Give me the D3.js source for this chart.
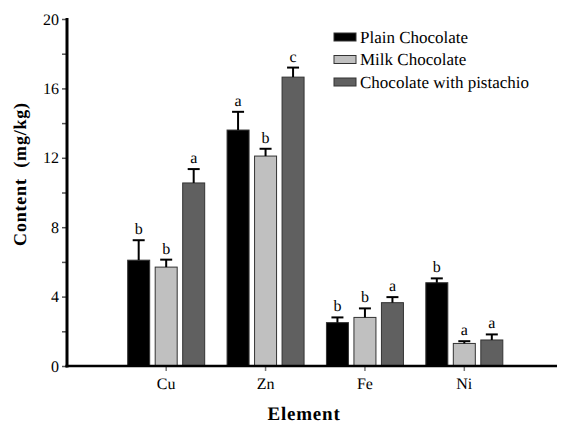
<!DOCTYPE html>
<html>
<head>
<meta charset="utf-8">
<script src="https://cdn.jsdelivr.net/npm/d3@7"></script>
<style>
  body { margin: 0; background: #fff; }
</style>
</head>
<body>
<div id="chart"></div>
<script>
// data
let elements = ["Cu", "Zn", "Fe", "Ni"];
let series = ["Plain Chocolate", "Milk Chocolate", "Chocolate with pistachio"];
let plainVals = [6.1, 13.6, 2.5, 4.8];
let plainErr = [1.15, 1.05, 0.3, 0.25];
let plainLetters = ["b", "a", "b", "b"];
let milkVals = [5.7, 12.1, 2.8, 1.3];
let milkErr = [0.43, 0.42, 0.52, 0.13];
let milkLetters = ["b", "b", "b", "a"];
let pistVals = [10.55, 16.65, 3.65, 1.5];
let pistErr = [0.8, 0.55, 0.32, 0.32];
let pistLetters = ["a", "c", "a", "a"];
let yTicks = [0, 2, 4, 6, 8, 10, 12, 14, 16, 18, 20];

let colors = ["#000000", "#c0c0c0", "#606060"];
let allVals = [plainVals, milkVals, pistVals];
let allErr = [plainErr, milkErr, pistErr];
let allLetters = [plainLetters, milkLetters, pistLetters];

let serif = "'Liberation Serif', 'Times New Roman', serif";

let svgWidth = 561;
let svgHeight = 424;

let svg = d3.select("#chart")
    .append("svg")
    .attr("width", svgWidth)
    .attr("height", svgHeight)
    .style("font-family", serif)
    .style("text-rendering", "geometricPrecision");

let axisX = 67;
let axisY = 366;

let y = d3.scaleLinear().domain([0, 20]).range([axisY, 19]);
let x0 = d3.scaleBand().domain(elements).range([116.5, 514]);
let x1 = d3.scaleBand().domain(series)
    .range([-41.25, 41.25])
    .paddingInner(0.2)
    .paddingOuter(0.1);

// flat rows for bars
let rows = [];
elements.forEach((el, i) => {
    series.forEach((s, j) => {
        rows.push({
            el: el, s: s, j: j,
            v: allVals[j][i], e: allErr[j][i], l: allLetters[j][i]
        });
    });
});

let barX = d => x0(d.el) + x0.bandwidth() / 2 + x1(d.s);

// bars
svg.append("g").selectAll("rect")
    .data(rows)
    .enter()
    .append("rect")
    .attr("x", d => barX(d))
    .attr("y", d => y(d.v))
    .attr("width", x1.bandwidth())
    .attr("height", d => axisY - y(d.v))
    .attr("fill", d => colors[d.j])
    .attr("stroke", "#333")
    .attr("stroke-width", 1);

// error bars
let errG = svg.append("g").attr("stroke", "#000").attr("stroke-width", 2);
errG.selectAll("line.v")
    .data(rows)
    .enter()
    .append("line")
    .attr("x1", d => barX(d) + x1.bandwidth() / 2)
    .attr("x2", d => barX(d) + x1.bandwidth() / 2)
    .attr("y1", d => y(d.v))
    .attr("y2", d => y(d.v + d.e));
errG.selectAll("line.c")
    .data(rows)
    .enter()
    .append("line")
    .attr("x1", d => barX(d) + x1.bandwidth() / 2 - 6)
    .attr("x2", d => barX(d) + x1.bandwidth() / 2 + 6)
    .attr("y1", d => y(d.v + d.e))
    .attr("y2", d => y(d.v + d.e));

// significance letters
svg.append("g").selectAll("text")
    .data(rows)
    .enter()
    .append("text")
    .attr("x", d => barX(d) + x1.bandwidth() / 2)
    .attr("y", d => y(d.v + d.e) - 6)
    .attr("text-anchor", "middle")
    .style("font-size", "16px")
    .text(d => d.l);

// y axis
let leftAxis = d3.axisLeft(y)
    .tickValues(yTicks)
    .tickSize(5)
    .tickFormat(d => d % 4 === 0 ? d : "");
let yAxis = svg.append("g")
    .attr("transform", `translate(${axisX}, 0)`)
    .call(leftAxis)
    .style("font-family", serif);
yAxis.select(".domain").remove();
yAxis.selectAll(".tick line").attr("stroke", "#555").attr("stroke-width", 1.5);
yAxis.selectAll(".tick text")
    .style("font-size", "16px")
    .attr("fill", "#000")
    .attr("x", -8);
svg.append("line")
    .attr("x1", axisX).attr("x2", axisX)
    .attr("y1", y(20) - 1).attr("y2", axisY + 1.5)
    .attr("stroke", "#000").attr("stroke-width", 3);

// x axis
let bottomAxis = d3.axisBottom(x0).tickSize(5).tickSizeOuter(0);
let xAxis = svg.append("g")
    .attr("transform", `translate(0, ${axisY})`)
    .call(bottomAxis)
    .style("font-family", serif);
xAxis.select(".domain").remove();
xAxis.selectAll(".tick line").attr("stroke", "#777").attr("stroke-width", 1.5);
xAxis.selectAll(".tick text")
    .style("font-size", "16px")
    .attr("fill", "#000")
    .attr("y", 12);
svg.append("line")
    .attr("x1", axisX - 1.5).attr("x2", 557)
    .attr("y1", axisY).attr("y2", axisY)
    .attr("stroke", "#000").attr("stroke-width", 2.5);

// axis titles
svg.append("text")
    .attr("x", 304)
    .attr("y", 420)
    .attr("text-anchor", "middle")
    .style("font-size", "19px")
    .style("font-weight", "bold")
    .style("letter-spacing", "0.8px")
    .text("Element");

svg.append("text")
    .attr("transform", "rotate(-90)")
    .attr("x", -174)
    .attr("y", 26)
    .attr("text-anchor", "middle")
    .style("font-size", "18px")
    .style("font-weight", "bold")
    .style("letter-spacing", "0.8px")
    .style("white-space", "pre")
    .text("Content  (mg/kg)");

// legend
let legend = svg.append("g").attr("transform", "translate(334, 37)");
series.forEach((s, j) => {
    let row = legend.append("g").attr("transform", `translate(0, ${j * 22.5})`);
    row.append("rect")
        .attr("x", 0).attr("y", -4)
        .attr("width", 22).attr("height", 8)
        .attr("fill", colors[j])
        .attr("stroke", "#333").attr("stroke-width", 1);
    row.append("text")
        .attr("x", 26).attr("y", 5.5)
        .style("font-size", "17px")
        .text(s);
});
</script>
</body>
</html>
